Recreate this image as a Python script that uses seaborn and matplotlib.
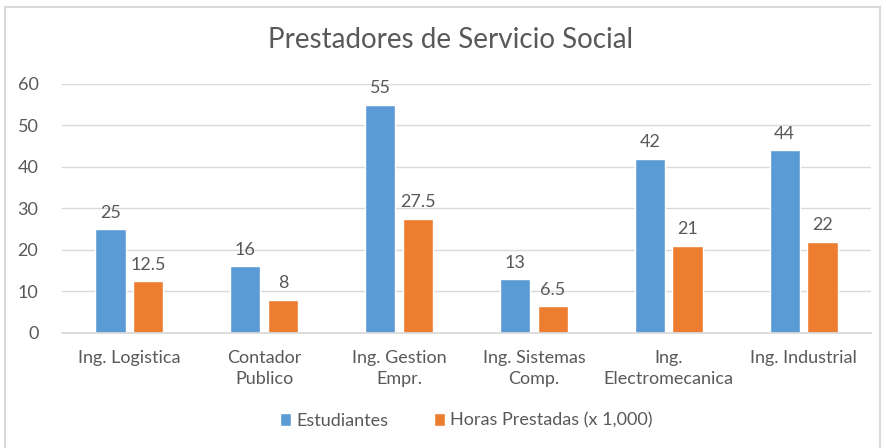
import matplotlib
matplotlib.use("Agg")
import matplotlib.pyplot as plt
import seaborn as sns
import pandas as pd
from matplotlib.patches import Rectangle

carreras = ["Ing. Logistica", "Contador\nPublico", "Ing. Gestion\nEmpr.",
            "Ing. Sistemas\nComp.", "Ing.\nElectromecanica", "Ing. Industrial"]
estudiantes = [25, 16, 55, 13, 42, 44]
horas = [12.5, 8, 27.5, 6.5, 21, 22]
series = ["Estudiantes", "Horas Prestadas (x 1,000)"]

sns.set_theme(style="white")
plt.rcParams["font.family"] = ["Lato", "DejaVu Sans"]
gris = "#595959"

df = pd.DataFrame({
    "carrera": carreras * 2,
    "valor": estudiantes + horas,
    "serie": [series[0]] * len(carreras) + [series[1]] * len(carreras),
})

fig = plt.figure(figsize=(8.86, 4.48), dpi=100)
ax = fig.add_axes([0.07, 0.257, 0.913, 0.556])

sns.barplot(data=df, x="carrera", y="valor", hue="serie",
            palette=["#5B9BD5", "#ED7D31"], width=0.56, gap=0.2,
            saturation=1, ax=ax)

for cont in ax.containers:
    ax.bar_label(cont, labels=[f"{v:g}" for v in cont.datavalues],
                 padding=6, fontsize=13, color=gris)

ax.set_ylim(0, 60)
ax.set_yticks(range(0, 61, 10))
ax.grid(axis="y", color="#d9d9d9", linewidth=1)
ax.set_axisbelow(True)
for s in ["top", "right", "left"]:
    ax.spines[s].set_visible(False)
ax.spines["bottom"].set_color("#d9d9d9")
ax.set_xlabel("")
ax.set_ylabel("")
ax.tick_params(axis="both", length=0, labelsize=13, colors=gris)
ax.tick_params(axis="x", pad=12)
ax.tick_params(axis="y", pad=17)
for lbl in ax.get_xticklabels():
    lbl.set_linespacing(1.45)

fig.suptitle("Prestadores de Servicio Social", x=0.508, y=0.94,
             fontsize=20, color=gris)

ax.legend(loc="upper center", bbox_to_anchor=(0.5, -0.255), ncol=2,
          frameon=False, fontsize=13, labelcolor=gris, handlelength=0.6,
          handleheight=0.7, handletextpad=0.3, columnspacing=2.5)

fig.patches.append(Rectangle((5 / 886, -0.05), 875 / 886, 1.034,
                             transform=fig.transFigure, fill=False,
                             edgecolor="#d9d9d9", linewidth=1.5))

fig.savefig("out.png", dpi=100)
